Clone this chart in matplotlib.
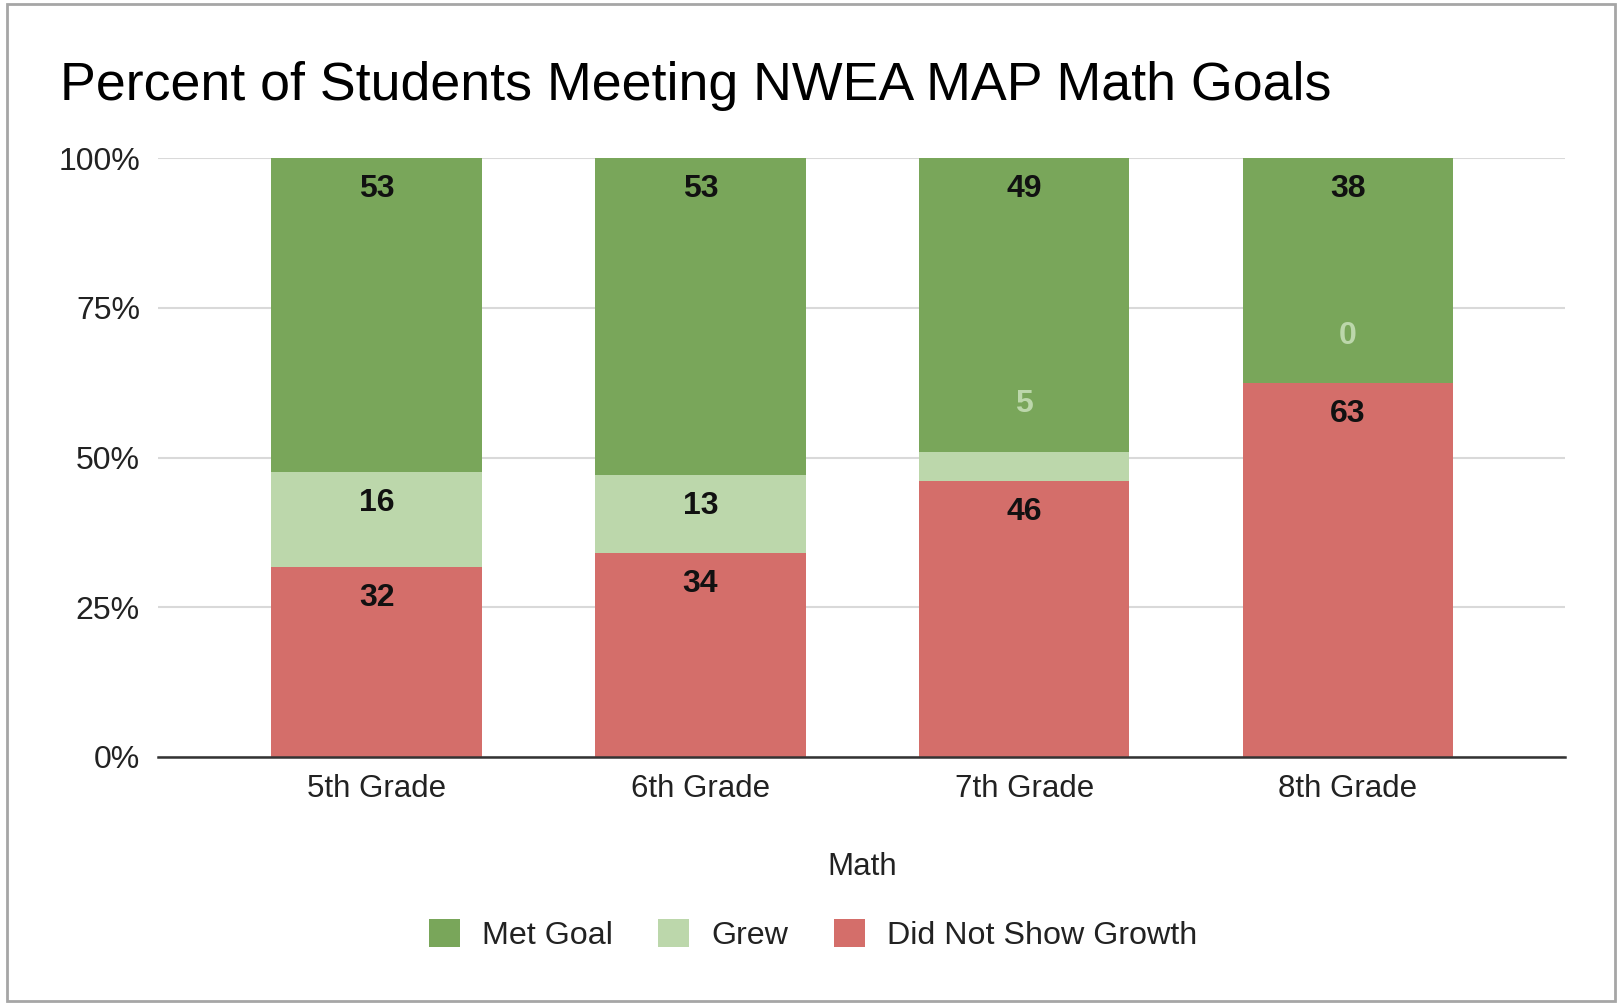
import matplotlib
matplotlib.use('Agg')
import matplotlib.pyplot as plt
from matplotlib.patches import Rectangle, Patch

plt.rcParams['font.family'] = ['Liberation Sans', 'DejaVu Sans']

grades = ['5th Grade', '6th Grade', '7th Grade', '8th Grade']
did_not = [32, 34, 46, 63]
grew = [16, 13, 5, 0]
met_goal = [53, 53, 49, 38]

c_met = '#79a65a'
c_grew = '#bcd7ab'
c_red = '#d46e6a'

fig = plt.figure(figsize=(16.19, 10.07), dpi=100)
W = 1619.0
H = 1007.0
ax = fig.add_axes([158/W, 1-757/H, (1565-158)/W, (757-158)/H])

# percent of each bar (100% stacked)
tot = [did_not[i] + grew[i] + met_goal[i] for i in range(len(grades))]
p_red = [did_not[i] / tot[i] * 100 for i in range(len(grades))]
p_grew = [grew[i] / tot[i] * 100 for i in range(len(grades))]
p_met = [met_goal[i] / tot[i] * 100 for i in range(len(grades))]

x = list(range(len(grades)))
bw = 0.65
ax.bar(x, p_red, bw, color=c_red, zorder=3)
ax.bar(x, p_grew, bw, bottom=p_red, color=c_grew, zorder=3)
bot2 = [p_red[i] + p_grew[i] for i in x]
ax.bar(x, p_met, bw, bottom=bot2, color=c_met, zorder=3)

# data labels (small segments get their label above, in the segment colour)
def label(xi, bottom, h, val, col):
    top = bottom + h
    if h < 6:
        ax.text(xi, top + 7.9, str(val), ha='center', va='center', fontsize=23,
                fontweight='bold', color=col, zorder=5)
    else:
        ax.text(xi, top - 5.1, str(val), ha='center', va='center', fontsize=23,
                fontweight='bold', color='#111111', zorder=5)

for i in x:
    label(i, 0, p_red[i], did_not[i], c_red)
    label(i, p_red[i], p_grew[i], grew[i], c_grew)
    label(i, bot2[i], p_met[i], met_goal[i], c_met)

ax.set_xlim(-0.675, 3.67)
ax.set_ylim(0, 100)
ax.set_yticks([0, 25, 50, 75, 100])
ax.set_yticklabels(['0%', '25%', '50%', '75%', '100%'])
ax.set_xticks(x)
ax.set_xticklabels(grades)
ax.tick_params(axis='y', length=0, pad=13, labelsize=23, labelcolor='#222222')
ax.tick_params(axis='x', length=0, pad=12, labelsize=22.5, labelcolor='#222222')
ax.grid(axis='y', color='#d9d9d9', linewidth=1.5, zorder=0)
for s in ['top', 'right', 'left']:
    ax.spines[s].set_visible(False)
ax.spines['bottom'].set_color('#333333')
ax.spines['bottom'].set_linewidth(1.8)
ax.spines['bottom'].set_zorder(4)

fig.text(60/W, 1-100/H, 'Percent of Students Meeting NWEA MAP Math Goals',
         fontsize=38.7, color='#000000', va='baseline', ha='left')
fig.text(862/W, 1-867/H, 'Math', fontsize=22.5, color='#222222', ha='center', va='center')

handles = [Patch(facecolor=c_met, label='Met Goal'),
           Patch(facecolor=c_grew, label='Grew'),
           Patch(facecolor=c_red, label='Did Not Show Growth')]
fig.legend(handles=handles, loc='center', bbox_to_anchor=(813/W, 1-935/H), ncol=3,
           frameon=False, fontsize=23.2, handlelength=0.96, handleheight=0.96,
           handletextpad=0.7, columnspacing=1.4, labelcolor='#222222')

# outer frame of the screenshot
fig.patches.append(Rectangle((7/W, 1-1001/H), (1615-7)/W, (1001-4)/H,
                             transform=fig.transFigure, fill=False,
                             edgecolor='#a6a6a6', linewidth=2))

plt.savefig('out.png', dpi=100)
